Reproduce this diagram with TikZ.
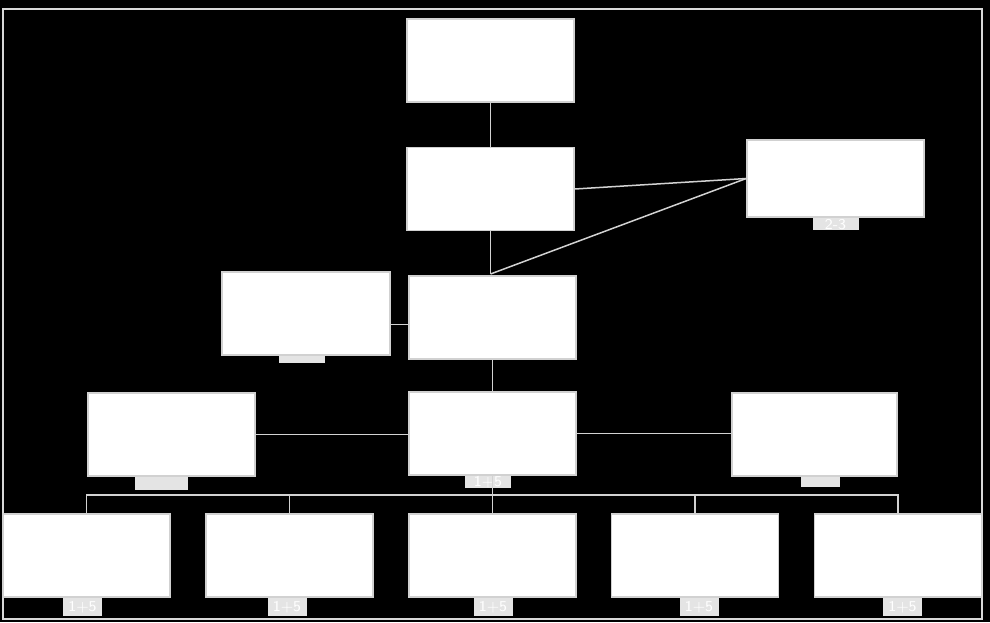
\documentclass[tikz,border=0pt]{standalone}
\usepackage{tikz}
\usetikzlibrary{positioning}
\definecolor{tabgrey}{HTML}{E4E4E4}
\definecolor{linegrey}{HTML}{D2D2D2}
\tikzstyle{unit} = [rectangle, minimum width=83.5pt, minimum height=41.5pt, inner sep=0pt, draw=white!82!black, line width=0.8pt, fill=white]
\tikzstyle{tab} = [rectangle, minimum width=20pt, minimum height=6pt, inner sep=0pt, fill=tabgrey, text=white, font=\sffamily\fontsize{7.5}{8}\selectfont]
\tikzstyle{link} = [linegrey, line width=0.75pt]

\begin{document}
\begin{tikzpicture}[x=0.5pt, y=-0.5pt]
\fill[black] (0,0) rectangle (990,622);
\useasboundingbox (0,0) rectangle (990,622);
\draw[white!85!black, line width=1pt] (3,9) rectangle (982,619);
% upper chain
\node(top)[unit] at (490.5,60.5){};
\node(mid)[unit] at (490.5,189){};
\node(side)[unit, minimum width=88.5pt, minimum height=38.5pt] at (835.5,178.5){};
\node(sidetab)[tab, below=0pt of side, minimum width=23pt]{2-3};
\draw[link] (top) -- (mid);
\coordinate(join) at (mid.south |- 0,274);
\draw[link] (mid.south) -- (join);
\draw[link] (side.west) -- (mid.east);
\draw[link] (side.west) -- (join);
% second level
\node(core)[unit] at (492.5,317.5){};
\node(aux)[unit, minimum width=84pt] at (306,313.5){};
\node(auxtab)[tab, below=0pt of aux, minimum width=23pt, minimum height=3.5pt, xshift=-2pt]{};
\draw[link] ([yshift=-5.5pt]aux.east) -- ([yshift=-5.5pt]aux.east -| core.west);
% third level
\node(hub)[unit] at (492.5,433.5){};
\node(hubtab)[tab, below=0pt of hub, minimum width=23pt, minimum height=5.5pt, xshift=-2.25pt]{1+5};
\node(left)[unit] at (171.5,434.5){};
\node(lefttab)[tab, below=0pt of left, minimum width=26.5pt, minimum height=6.5pt, xshift=-5.25pt]{};
\node(right)[unit, minimum width=82.5pt] at (814.5,434.5){};
\node(righttab)[tab, below=0pt of right, minimum width=19.5pt, minimum height=5pt, xshift=2.75pt]{};
\draw[link] (core) -- (hub);
\draw[link] (left.east) -- (left.east -| hub.west);
\draw[link] (hub.east) -- (hub.east -| right.west);
% bottom row
\foreach \n/\x/\s in {b1/86.5/-2, b2/289.5/-1.25, b3/492.5/0.25, b4/695/2, b5/898/2.25}{
  \node(\n)[unit] at (\x,555.5){};
  \node(\n tab)[tab, below=0pt of \n, minimum width=19.5pt, minimum height=9pt, xshift=\s pt]{1+5};
}
\coordinate(bus) at (hub.south |- 0,495);
\draw[link] (hub.south) -- (b3.north);
\foreach \n in {b1,b2,b4,b5}
  \draw[link] (bus) -| (\n.north);
\end{tikzpicture}
\end{document}
